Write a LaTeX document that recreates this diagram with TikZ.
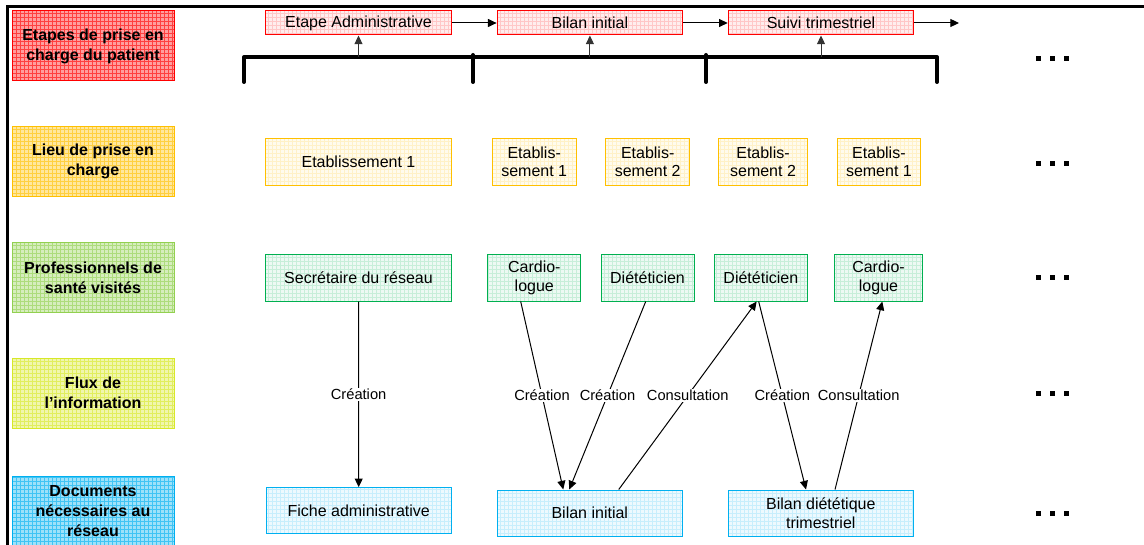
\documentclass[tikz,border=0pt]{standalone}
\usepackage{fontspec}
\setmainfont{Liberation Sans}
\usetikzlibrary{patterns,arrows.meta,calc}
\definecolor{cRed}{RGB}{255,0,0}
\definecolor{cOrange}{RGB}{255,192,0}
\definecolor{cGreenL}{RGB}{146,208,80}
\definecolor{cGreen}{RGB}{0,176,80}
\definecolor{cYellow}{RGB}{215,232,40}
\definecolor{cBlue}{RGB}{0,176,240}
\tikzset{
  lab/.style={draw=#1, line width=0.75pt, preaction={fill=#1!38}, pattern=grid, pattern color=#1!75,
    font=\bfseries\fontsize{12}{15}\selectfont, align=center, minimum width=121.5pt, minimum height=52.5pt, inner sep=0pt},
  cbox/.style={draw=#1, line width=0.75pt, preaction={fill=#1!7}, pattern=grid, pattern color=#1!22,
    font=\fontsize{12}{13.8}\selectfont, align=center, inner sep=0pt},
  arr/.style={line width=0.75pt, -{Triangle[length=6.5pt,width=6pt]}},
  flab/.style={fill=white, inner sep=1pt, font=\fontsize{11}{13}\selectfont},
  bracket/.style={line width=3pt, line cap=round, line join=round},
  dotsq/.style={fill=black},
}
\begin{document}
\begin{tikzpicture}[x=0.75pt,y=-0.75pt]
\useasboundingbox (0,0) rectangle (1144,545);
% frame
\draw[line width=2.25pt] (7.5,545) -- (7.5,7) -- (1144,7);
% row labels
\node[lab=cRed] (l1) at (93,46) {Etapes de prise en\\charge du patient};
\node[lab=cOrange] (l2) at (93,161.8) {Lieu de prise en\\charge};
\node[lab=cGreenL] (l3) at (93,277.5) {Professionnels de\\santé visités};
\node[lab=cYellow] (l4) at (93,393) {Flux de\\l’information};
\node[lab=cBlue] (l5) at (93,511.2) {Documents\\nécessaires au\\réseau};
% row 1
\node[cbox=cRed, minimum width=139.2pt, minimum height=18pt] (ea) at (358.5,23) {Etape Administrative};
\node[cbox=cRed, minimum width=139.2pt, minimum height=18pt] (bi) at (589.9,23) {Bilan initial};
\node[cbox=cRed, minimum width=139.2pt, minimum height=18pt] (st) at (821,23) {Suivi trimestriel};
\coordinate (next) at (959,23);
\draw[arr] (ea) -- (bi);
\draw[arr] (bi) -- (st);
\draw[arr] (st) -- (next);
% bracket
\draw[bracket] (244,82) -- (244,57) -- (937,57) -- (937,82);
\draw[bracket] (473,55) -- (473,82);
\draw[bracket] (706,55) -- (706,82);
\coordinate (b1) at (358.5,57);
\coordinate (b2) at (589.9,57);
\coordinate (b3) at (821,57);
\draw[arr, black!80] (b1) -- (ea.south);
\draw[arr, black!80] (b2) -- (bi.south);
\draw[arr, black!80] (b3) -- (st.south);
% row 2
\node[cbox=cOrange, minimum width=139.2pt, minimum height=35.25pt] (e0) at (358.5,161.8) {Etablissement 1};
\node[cbox=cOrange, minimum width=62.8pt, minimum height=35.25pt] (e1) at (534.2,161.8) {Etablis-\\sement 1};
\node[cbox=cOrange, minimum width=63pt, minimum height=35.25pt] (e2) at (647.7,161.8) {Etablis-\\sement 2};
\node[cbox=cOrange, minimum width=66.5pt, minimum height=35.25pt] (e3) at (763,161.8) {Etablis-\\sement 2};
\node[cbox=cOrange, minimum width=62.8pt, minimum height=35.25pt] (e4) at (878.9,161.8) {Etablis-\\sement 1};
% row 3
\node[cbox=cGreen, minimum width=139.2pt, minimum height=35pt] (sec) at (358.5,277.7) {Secrétaire du réseau};
\node[cbox=cGreen, minimum width=69.5pt, minimum height=35pt] (ca1) at (534.3,277.7) {Cardio-\\logue};
\node[cbox=cGreen, minimum width=69.75pt, minimum height=35pt] (di1) at (647.5,277.7) {Diététicien};
\node[cbox=cGreen, minimum width=69.75pt, minimum height=35pt] (di2) at (760.8,277.7) {Diététicien};
\node[cbox=cGreen, minimum width=66.3pt, minimum height=35pt] (ca2) at (878.5,277.7) {Cardio-\\logue};
% row 5
\node[cbox=cBlue, minimum width=139pt, minimum height=34.7pt] (fa) at (358.7,510.8) {Fiche administrative};
\node[cbox=cBlue, minimum width=138.8pt, minimum height=34.5pt] (bil) at (589.8,513) {Bilan initial};
\node[cbox=cBlue, minimum width=138.8pt, minimum height=34.5pt] (bd) at (820.8,513) {Bilan diététique\\trimestriel};
% flows
\draw[arr] (sec.south) -- node[flab]{Création} (fa.north);
\draw[arr] ([xshift=-10.2pt]ca1.south) -- node[flab]{Création} ([xshift=-19.9pt]bil.north);
\draw[arr] ([xshift=-1.35pt]di1.south) -- node[flab]{Création} ([xshift=-15.4pt]bil.north);
\draw[arr] ([xshift=21.7pt]bil.north) -- node[flab]{Consultation} ([xshift=-3.1pt]di2.south);
\draw[arr] ([xshift=-1.6pt]di2.south) -- node[flab]{Création} ([xshift=-11.1pt]bd.north);
\draw[arr] ([xshift=10.65pt]bd.north) -- node[flab]{Consultation} ([xshift=2.85pt]ca2.south);
% continuation dots
\foreach \yy in {58.3,163.3,277,393.3,513.3}{
  \foreach \xx in {1038.5,1052,1066}{
    \fill[dotsq] (\xx-2.5,\yy-2.5) rectangle (\xx+2.5,\yy+2.5);
  }
}
\end{tikzpicture}
\end{document}
